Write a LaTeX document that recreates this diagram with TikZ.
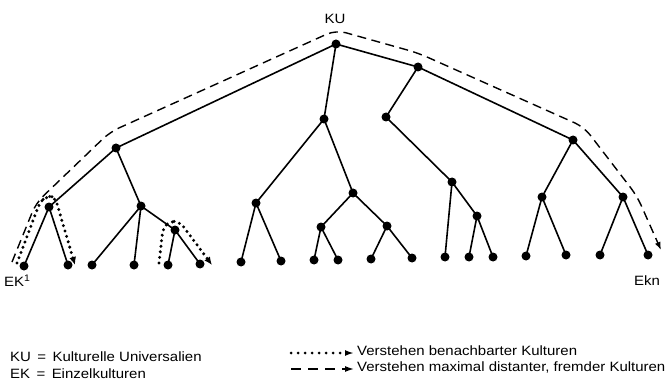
\documentclass[tikz,border=0pt]{standalone}
\usepackage{fontspec}
\setmainfont[FakeStretch=1.11]{Liberation Sans}
\usetikzlibrary{arrows.meta}
\tikzset{
  dot/.style={circle,fill=black,inner sep=0pt,minimum size=9pt},
  edge/.style={line width=1.6pt},
  dotpath/.style={line width=3.3pt,line cap=round,dash pattern=on 0pt off 5.6pt,-{Latex[length=8pt,width=7pt]}},
  dashpath/.style={line width=1.4pt,dash pattern=on 9pt off 5.5pt,-{Latex[length=8pt,width=6pt]}},
  lbl/.style={font=\fontsize{13.5}{15}\selectfont,inner sep=0pt}
}
\begin{document}
\begin{tikzpicture}[x=1pt,y=-1pt]
\useasboundingbox (0,0) rectangle (666,382);
% nodes
\node[dot] (R) at (336,44) {};
\node[dot] (A) at (116,148) {};
\node[dot] (B) at (324,119) {};
\node[dot] (C) at (418,67) {};
\node[dot] (A1) at (49,207) {};
\node[dot] (A2) at (141,206) {};
\node[dot] (A3) at (175,230) {};
\node[dot] (B1) at (256,203) {};
\node[dot] (B2) at (353,193) {};
\node[dot] (B3) at (321,227) {};
\node[dot] (B4) at (387,226) {};
\node[dot] (C1) at (386,117) {};
\node[dot] (C2) at (573,140) {};
\node[dot] (C3) at (452,182) {};
\node[dot] (C4) at (477,216) {};
\node[dot] (C5) at (542,197) {};
\node[dot] (C6) at (623,197) {};
\node[dot] (l1) at (24,266) {};
\node[dot] (l2) at (68,265) {};
\node[dot] (l3) at (92,265) {};
\node[dot] (l4) at (134,265) {};
\node[dot] (l5) at (168,265) {};
\node[dot] (l6) at (200,264) {};
\node[dot] (l7) at (241,262) {};
\node[dot] (l8) at (281,261) {};
\node[dot] (l9) at (314,260) {};
\node[dot] (l10) at (338,260) {};
\node[dot] (l11) at (371,259) {};
\node[dot] (l12) at (412,258) {};
\node[dot] (l13) at (445,257) {};
\node[dot] (l14) at (469,257) {};
\node[dot] (l15) at (493,257) {};
\node[dot] (l16) at (526,256) {};
\node[dot] (l17) at (566,255) {};
\node[dot] (l18) at (600,255) {};
\node[dot] (l19) at (648,255) {};
% edges
\foreach \a/\b in {R/A,R/B,R/C,A/A1,A/A2,A1/l1,A1/l2,A2/l3,A2/l4,A2/A3,A3/l5,A3/l6,
  B/B1,B/B2,B1/l7,B1/l8,B2/B3,B2/B4,B3/l9,B3/l10,B4/l11,B4/l12,
  C/C1,C/C2,C1/C3,C3/l13,C3/C4,C4/l14,C4/l15,C2/C5,C2/C6,C5/l16,C5/l17,C6/l18,C6/l19}
  \draw[edge] (\a.center) -- (\b.center);
% labels
\node[lbl] (ku) at (335,19) {KU};
\node[lbl,anchor=west] (ek1) at (4,281) {EK$^{\mathrm{1}}$};
\node[lbl] (ekn) at (647,281) {Ekn};
% dotted paths
\coordinate (d1s) at (17,263);
\coordinate (d1e) at (75,265);
\draw[dotpath,rounded corners=6pt] (d1s) -- (40,202) -- (47,196) -- (55,197) -- (d1e);
\coordinate (d2s) at (159,263);
\coordinate (d2e) at (212,265);
\draw[dotpath,rounded corners=6pt] (d2s) -- (163,228) -- (170,221) -- (180,222) -- (d2e);
% dashed path
\coordinate (ds) at (12,262);
\coordinate (de) at (661,250);
\draw[dashpath,rounded corners=10pt] (ds) -- (36,203) -- (110,132) -- (336,30) -- (418,53) -- (584,127) -- (637,196) -- (de);
% legend
\node[lbl,anchor=west] (k1) at (10,357) {KU\,\ =\ \,Kulturelle Universalien};
\node[lbl,anchor=west] (k2) at (10,374) {EK\,\ =\ \,Einzelkulturen};
\node[lbl,anchor=west] (v1) at (357,351) {Verstehen benachbarter Kulturen};
\node[lbl,anchor=west] (v2) at (357,367) {Verstehen maximal distanter, fremder Kulturen};
\coordinate (a1) at (291,353);
\coordinate (a2) at (291,369);
\draw[dotpath,line width=3pt,dash pattern=on 0pt off 7pt,-{Latex[length=9pt,width=6pt]}] (a1) -- ([xshift=-3pt]v1.west |- a1);
\draw[dashpath,dash pattern=on 10pt off 7pt,-{Latex[length=9pt,width=6pt]}] (a2) -- ([xshift=-3pt]v2.west |- a2);
\end{tikzpicture}
\end{document}
